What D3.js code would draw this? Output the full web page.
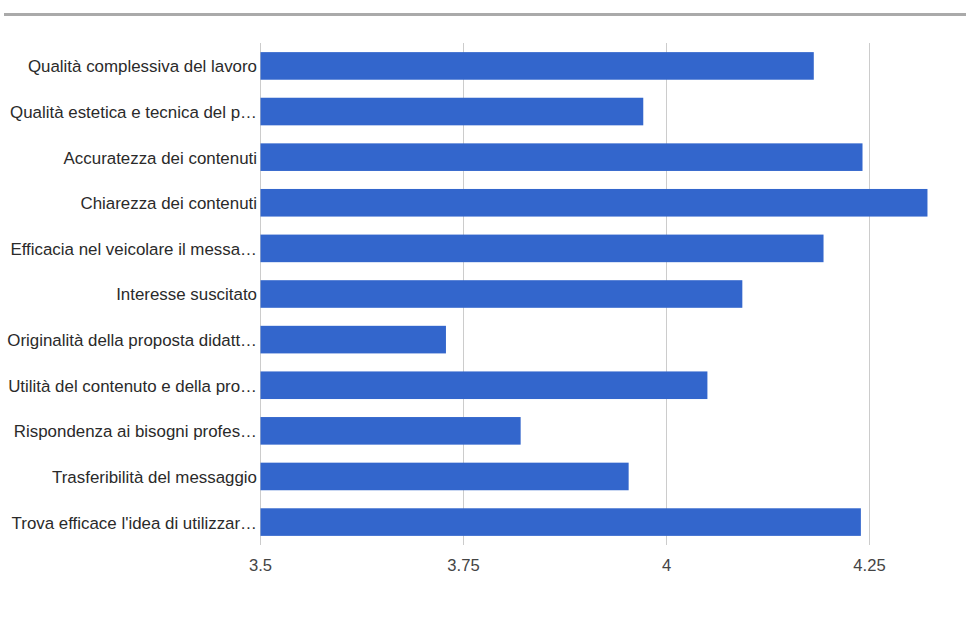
<!DOCTYPE html>
<html>
<head>
<meta charset="utf-8">
<script src="https://cdn.jsdelivr.net/npm/d3@7"></script>
<style>
  html, body { margin: 0; padding: 0; background: #fff; }
  svg { display: block; font-family: "Liberation Sans", Arial, sans-serif; }
</style>
</head>
<body>
<svg id="chart" width="966" height="620"></svg>
<script>
// Evaluation items (labels as displayed, truncated where too long)
const categories = [
  "Qualità complessiva del lavoro",
  "Qualità estetica e tecnica del p…",
  "Accuratezza dei contenuti",
  "Chiarezza dei contenuti",
  "Efficacia nel veicolare il messa…",
  "Interesse suscitato",
  "Originalità della proposta didatt…",
  "Utilità del contenuto e della pro…",
  "Rispondenza ai bisogni profes…",
  "Trasferibilità del messaggio",
  "Trova efficace l'idea di utilizzar…"
];

// Average score for each item
const scores = [4.182, 3.972, 4.242, 4.322, 4.194, 4.094, 3.729, 4.051, 3.821, 3.954, 4.240];

// Horizontal axis ticks
const tickValues = [3.5, 3.75, 4, 4.25];
const tickLabels = ["3.5", "3.75", "4", "4.25"];

const svg = d3.select("#chart");

const plot = { left: 260, top: 43, bottom: 545 };

const x = d3.scaleLinear().domain([3.5, 4.25]).range([260, 869]);

const y = d3.scaleBand()
  .domain(categories)
  .range([plot.top, plot.bottom])
  .paddingInner(0.395)
  .paddingOuter(0.2);

// Top separator rule
svg.append("rect")
  .attr("x", 4).attr("y", 13)
  .attr("width", 962).attr("height", 3)
  .attr("fill", "#aaaaaa");

// Vertical gridlines
svg.append("g")
  .selectAll("line")
  .data(tickValues)
  .join("line")
  .attr("x1", d => Math.round(x(d)) + 0.5)
  .attr("x2", d => Math.round(x(d)) + 0.5)
  .attr("y1", plot.top)
  .attr("y2", plot.bottom)
  .attr("stroke", "#cccccc")
  .attr("stroke-width", 1);

// Bars
svg.append("g")
  .selectAll("rect")
  .data(categories.map((c, i) => ({ c, v: scores[i] })))
  .join("rect")
  .attr("x", x(3.5) + 0.5)
  .attr("y", d => y(d.c))
  .attr("width", d => x(d.v) - x(3.5) - 0.5)
  .attr("height", y.bandwidth())
  .attr("fill", "#3366cc");

// Category labels
const yAxis = d3.axisLeft(y).tickSize(0).tickPadding(3);
const gy = svg.append("g")
  .attr("transform", `translate(${plot.left},1)`)
  .call(yAxis);
gy.select(".domain").remove();
gy.selectAll("text")
  .attr("font-size", "16.9px")
  .attr("font-family", "Liberation Sans, Arial, sans-serif")
  .attr("fill", "#2a2a2a");

// Value axis labels
const xAxis = d3.axisBottom(x)
  .tickValues(tickValues)
  .tickFormat((d, i) => tickLabels[i])
  .tickSize(0)
  .tickPadding(14);
const gx = svg.append("g")
  .attr("transform", `translate(0,${plot.bottom})`)
  .call(xAxis);
gx.select(".domain").remove();
gx.selectAll("text")
  .attr("font-size", "16.6px")
  .attr("font-family", "Liberation Sans, Arial, sans-serif")
  .attr("fill", "#444444");
</script>
</body>
</html>
